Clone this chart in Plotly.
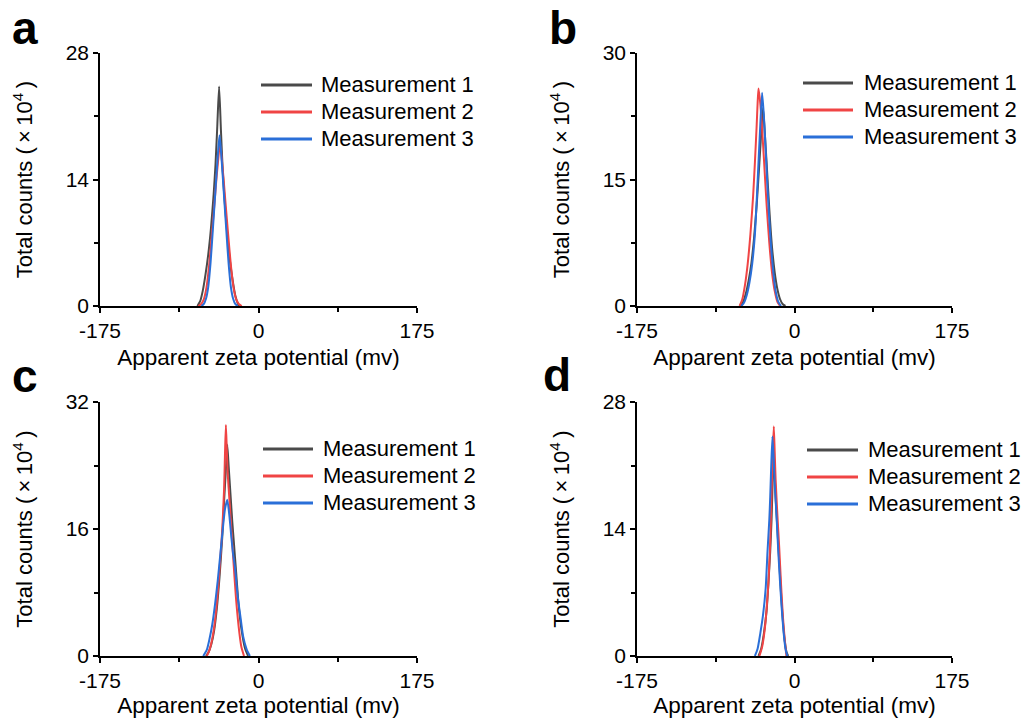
import plotly.graph_objects as go

# ---------------- data ----------------
names = ["Measurement 1", "Measurement 2", "Measurement 3"]
colors = ["#4a4a4a", "#f04444", "#2a6fd8"]

# panel a
a1_x = [-67.5, -64.5, -61.5, -58.5, -55.5, -52.5, -49.5, -47.5, -45.5, -43.5, -41.5, -39.5, -37.5, -34.5, -31.5, -28.5, -25.5, -22.5, -21]
a1_y = [0, 0.5, 1.7, 3.5, 5.7, 8.6, 12.4, 15.6, 19.9, 24.3, 19.5, 15.0, 11.8, 8.0, 5.0, 2.8, 1.1, 0.2, 0]
a2_x = [-66.5, -63.5, -60.5, -57.5, -54.5, -51.5, -48.5, -46.5, -44.5, -42.5, -40.5, -38.5, -36.5, -33.5, -30.5, -27.5, -24.5, -21.5, -18.5]
a2_y = [0, 0.2, 0.7, 2.0, 4.5, 7.9, 11.5, 14.0, 16.2, 18.0, 16.2, 14.0, 11.5, 7.9, 4.5, 2.0, 0.7, 0.2, 0]
a3_x = [-63, -60.5, -58, -55.5, -53, -50.5, -48, -46.3, -44.7, -43, -41.3, -39.7, -38, -35.5, -33, -30.5, -28, -25.5, -23]
a3_y = [0, 0.2, 0.8, 2.1, 4.7, 8.3, 12.1, 14.7, 17.0, 18.9, 17.0, 14.7, 12.1, 8.3, 4.7, 2.1, 0.8, 0.2, 0]

# panel b
b1_x = [-60, -57, -54, -51, -48, -45, -42, -39, -37, -35, -33, -31, -28, -25, -22, -19, -16, -13, -10]
b1_y = [0, 0.5, 1.5, 3.0, 5.0, 8.0, 12.0, 17.0, 20.5, 23.5, 20.5, 17.0, 11.5, 7.0, 4.0, 2.0, 0.8, 0.2, 0]
b2_x = [-61, -58, -55, -52, -49, -46, -44, -42, -41, -40, -38, -36, -34, -31, -28, -25, -22, -19, -16]
b2_y = [0, 0.8, 2.5, 5.0, 8.5, 13.0, 17.0, 21.5, 24.0, 25.8, 24.0, 21.0, 17.5, 12.0, 7.5, 4.0, 1.8, 0.5, 0]
b3_x = [-59, -56, -53, -50, -47, -44, -42, -40, -38, -36, -34, -32, -30, -27, -24, -21, -18, -15]
b3_y = [0, 0.4, 1.3, 2.8, 5.0, 8.5, 12.5, 17.0, 21.5, 25.3, 22.5, 18.5, 14.0, 8.5, 4.5, 1.8, 0.5, 0]

# panel c
c1_x = [-58, -55, -52, -49, -46, -43, -40, -38, -36, -34.5, -33, -31, -29, -27, -25, -22, -19, -15, -11.5]
c1_y = [0, 0.5, 1.5, 3.2, 6.0, 10.0, 15.0, 19.5, 23.5, 26.6, 24.0, 20.5, 17.0, 14.0, 11.0, 6.5, 3.5, 1.0, 0]
c2_x = [-57, -54, -51, -48, -45, -42, -40, -38, -37, -36, -35, -34, -32, -30, -28, -25, -22, -19, -16]
c2_y = [0, 0.8, 2.2, 4.5, 8.0, 12.5, 16.0, 21.0, 25.5, 29.1, 26.0, 23.0, 19.5, 16.0, 12.5, 7.5, 3.8, 1.2, 0]
c3_x = [-61, -57, -54, -51, -48, -45, -42, -39, -37, -34.5, -32, -30, -28, -26, -23, -20, -17, -13, -9.5]
c3_y = [0, 0.8, 2.2, 4.0, 6.5, 9.5, 13.0, 16.5, 18.5, 19.7, 17.5, 15.0, 12.8, 11.2, 7.5, 5.0, 2.5, 0.8, 0]

# panel d
d1_x = [-40, -37, -34, -31, -29, -27, -25.5, -24.5, -23.8, -23, -22.2, -21, -19, -17, -15, -13, -11, -9, -7]
d1_y = [0, 0.8, 2.5, 5.0, 8.0, 11.5, 15.0, 18.5, 20.8, 22.5, 20.5, 17.5, 14.0, 10.5, 7.0, 4.0, 1.8, 0.5, 0]
d2_x = [-39, -36, -33, -31, -29, -27, -26, -25, -24, -23, -22, -21, -19, -17, -15, -13, -11, -9]
d2_y = [0, 1.0, 3.0, 5.2, 8.0, 12.5, 16.0, 19.5, 22.5, 25.3, 22.5, 19.5, 15.5, 12.0, 8.0, 4.5, 2.0, 0]
d3_x = [-44, -41, -38, -35, -32, -30, -28, -27, -26, -24.5, -23, -22, -20, -18, -16, -14, -12, -10, -8]
d3_y = [0, 0.8, 2.5, 4.5, 7.5, 11.5, 15.0, 17.5, 20.5, 24.2, 21.5, 19.0, 15.5, 11.5, 8.0, 5.0, 2.5, 0.8, 0]

panel_letters = ["a", "b", "c", "d"]
y_max = [28, 30, 32, 28]
y_ticks = [[0, 14, 28], [0, 15, 30], [0, 16, 32], [0, 14, 28]]
x_ticks = [-175, 0, 175]
x_minor = [-87.5, 87.5]
x_title = "Apparent zeta potential (mv)"
y_title = "Total counts (\u2009\u00d7\u200910<sup>4</sup>\u2009)"

panels = [
    [(a1_x, a1_y), (a2_x, a2_y), (a3_x, a3_y)],
    [(b1_x, b1_y), (b2_x, b2_y), (b3_x, b3_y)],
    [(c1_x, c1_y), (c2_x, c2_y), (c3_x, c3_y)],
    [(d1_x, d1_y), (d2_x, d2_y), (d3_x, d3_y)],
]

# ---------------- layout geometry (pixels) ----------------
W, H = 1025, 718
FONT = "Arial, Liberation Sans, sans-serif"
# (left, right, top, bottom) of each plot area
boxes = [(100, 417, 53, 306), (637, 952, 53, 306), (100, 417, 402, 656), (637, 952, 402, 656)]
# legend: (line x0, line x1, text x, [row y's])
legend_geo = [
    (261, 312, 319, [85, 112, 139]),
    (803, 853, 862, [83, 110, 137]),
    (263, 313, 321, [449, 476, 503]),
    (807, 858, 866, [450, 477, 504]),
]
letter_pos = [(10, 56), (547, 56), (10, 404), (541, 403)]

fig = go.Figure()
for p, series in enumerate(panels):
    sfx = "" if p == 0 else str(p + 1)
    for k, (xs, ys) in enumerate(series):
        fig.add_trace(go.Scatter(
            x=xs, y=ys, mode="lines", name=names[k],
            line=dict(color=colors[k], width=2, shape="spline", smoothing=0.6),
            xaxis="x" + sfx, yaxis="y" + sfx, showlegend=False,
        ))

layout = dict(
    width=W, height=H, margin=dict(l=0, r=0, t=0, b=0, autoexpand=False),
    paper_bgcolor="white", plot_bgcolor="white",
    font=dict(family=FONT, size=21, color="black"),
    showlegend=False,
)
annotations = []
shapes = []
for p in range(4):
    sfx = "" if p == 0 else str(p + 1)
    l, r, t, b = boxes[p]
    common = dict(showline=True, linecolor="black", linewidth=1.5, mirror=False,
                  ticks="outside", ticklen=5, tickwidth=1.5, tickcolor="black",
                  showgrid=False, zeroline=False, automargin=False,
                  tickfont=dict(size=21, family=FONT))
    layout["xaxis" + sfx] = dict(
        domain=[l / W, r / W], anchor="y" + sfx, range=[-175, 175],
        tickvals=x_ticks, ticktext=[str(v) for v in x_ticks],
        minor=dict(tickvals=x_minor, ticks="outside", ticklen=4, tickwidth=1.5, tickcolor="black"),
        title=dict(text=x_title, font=dict(size=22.5, family=FONT), standoff=8),
        **common)
    yt = y_ticks[p]
    layout["yaxis" + sfx] = dict(
        domain=[1 - b / H, 1 - t / H], anchor="x" + sfx, range=[0, y_max[p]],
        tickvals=yt, ticktext=[str(v) for v in yt],
        minor=dict(tickvals=[yt[1] / 2, yt[1] * 1.5], ticks="outside", ticklen=4, tickwidth=1.5, tickcolor="black"),
        title=dict(text=y_title, font=dict(size=22, family=FONT), standoff=27),
        **common)
    # legend (drawn as sample lines + labels)
    x0, x1, tx_, rows = legend_geo[p]
    for k in range(3):
        yy = 1 - rows[k] / H
        shapes.append(dict(type="line", xref="paper", yref="paper",
                           x0=x0 / W, x1=x1 / W, y0=yy, y1=yy,
                           line=dict(color=colors[k], width=3)))
        annotations.append(dict(
            text=names[k], x=tx_ / W, y=1 - (rows[k] - 1) / H,
            xref="paper", yref="paper", xanchor="left", yanchor="middle",
            showarrow=False, font=dict(size=22, family=FONT, color="black")))
    tx, ty = letter_pos[p]
    annotations.append(dict(
        text="<b>" + panel_letters[p] + "</b>", x=tx / W, y=1 - ty / H,
        xref="paper", yref="paper", xanchor="left", yanchor="bottom",
        showarrow=False, font=dict(size=46, family=FONT, color="black")))
layout["annotations"] = annotations
layout["shapes"] = shapes
fig.update_layout(**layout)
fig.write_html("out.html")
